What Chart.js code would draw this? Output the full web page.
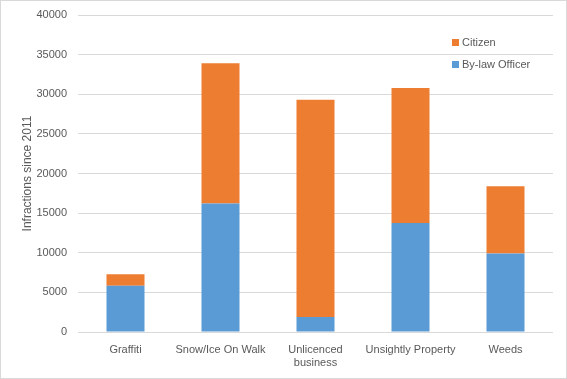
<!DOCTYPE html>
<html>
<head>
<meta charset="utf-8">
<script src="https://cdn.jsdelivr.net/npm/chart.js@4/dist/chart.umd.min.js"></script>
<style>
  html, body { margin: 0; padding: 0; background: #fff; }
  #wrap { width: 567px; height: 379px; position: relative; }
</style>
</head>
<body>
<div id="wrap"><canvas id="c" width="567" height="379"></canvas></div>
<script>
const categories = ["Graffiti", "Snow/Ice On Walk", ["Unlicenced", "business"], "Unsightly Property", "Weeds"];
const bylawOfficer = [5850, 16200, 1900, 13750, 9900];
const citizen = [1450, 17700, 27400, 17050, 8500];
const yTicks = [0, 5000, 10000, 15000, 20000, 25000, 30000, 35000, 40000];
const yTitle = "Infractions since 2011";

const FONT = "'Liberation Sans', Arial, sans-serif";
const TXT = "#595959";

const frame = {
  id: 'frame',
  beforeDraw(chart) {
    const ctx = chart.ctx;
    ctx.save();
    ctx.fillStyle = '#fff';
    ctx.fillRect(0, 0, chart.width, chart.height);
    ctx.strokeStyle = '#d9d9d9';
    ctx.lineWidth = 1;
    ctx.strokeRect(0.5, 0.5, chart.width - 1, chart.height - 1);
    ctx.restore();
  }
};

const customLegend = {
  id: 'customLegend',
  afterDraw(chart) {
    const ctx = chart.ctx;
    const ds = chart.data.datasets;
    const order = [1, 0];
    ctx.save();
    ctx.font = "11px " + FONT;
    ctx.textBaseline = 'middle';
    ctx.textAlign = 'left';
    order.forEach((idx, i) => {
      const y = 42.5 + i * 22;
      ctx.fillStyle = ds[idx].backgroundColor;
      ctx.fillRect(452, y - 3.5, 7, 7);
      ctx.fillStyle = TXT;
      ctx.fillText(ds[idx].label, 462, y);
    });
    ctx.restore();
  }
};

new Chart(document.getElementById('c'), {
  type: 'bar',
  data: {
    labels: categories,
    datasets: [
      { label: 'By-law Officer', data: bylawOfficer, backgroundColor: '#5B9BD5', barPercentage: 0.4, categoryPercentage: 1.0 },
      { label: 'Citizen', data: citizen, backgroundColor: '#ED7D31', barPercentage: 0.4, categoryPercentage: 1.0 }
    ]
  },
  options: {
    responsive: false,
    animation: false,
    devicePixelRatio: 1,
    layout: { padding: { top: 15, right: 14, bottom: 0, left: 0 } },
    plugins: { legend: { display: false }, tooltip: { enabled: false } },
    scales: {
      x: {
        stacked: true,
        grid: { display: false },
        border: { display: false },
        ticks: { color: TXT, font: { family: FONT, size: 11 }, padding: 3, maxRotation: 0 },
        afterFit(s) { s.height = 47; }
      },
      y: {
        stacked: true,
        min: 0, max: 40000,
        afterBuildTicks(s) { s.ticks = yTicks.map(v => ({ value: v })); },
        grid: { color: '#d9d9d9', lineWidth: 1, drawTicks: false },
        border: { display: false },
        ticks: { color: TXT, font: { family: FONT, size: 11 }, padding: 11, callback: v => String(v) },
        title: { display: true, text: yTitle, color: TXT, font: { family: FONT, size: 12 }, padding: { top: 20, bottom: 0 } },
        afterFit(s) { s.width = 78; s.paddingTop = 0; s.paddingBottom = 0; }
      }
    }
  },
  plugins: [frame, customLegend]
});
</script>
</body>
</html>
